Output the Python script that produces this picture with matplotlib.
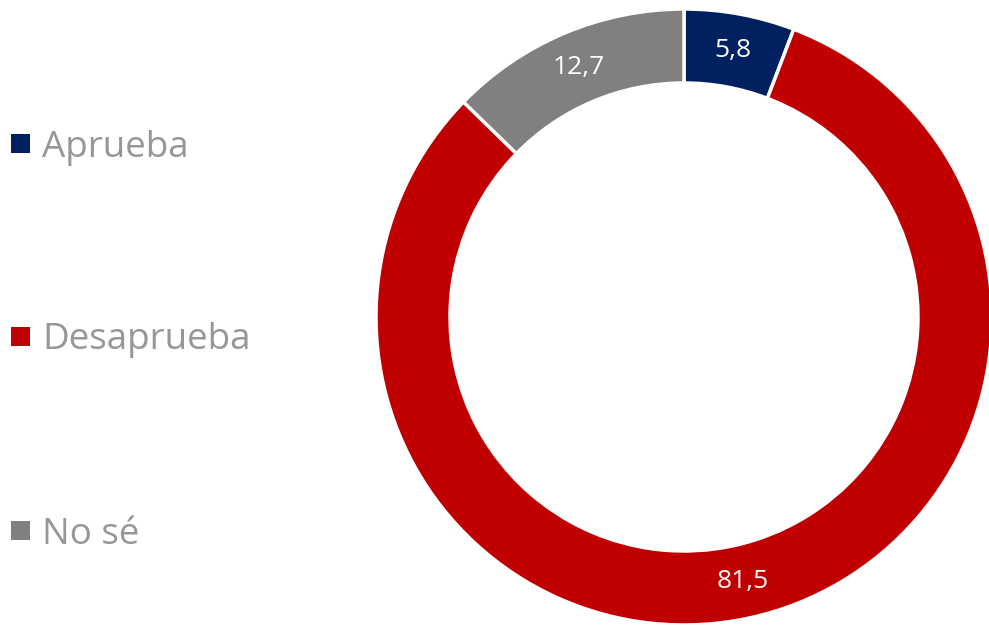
import matplotlib
matplotlib.use("Agg")
import matplotlib.pyplot as plt
from matplotlib.patches import Rectangle
import numpy as np

categories = ["Aprueba", "Desaprueba", "No sé"]
values = [5.8, 81.5, 12.7]
colors = ["#002060", "#C00000", "#808080"]

plt.rcParams['font.family'] = ['Open Sans', 'DejaVu Sans']

W, H = 989, 627
fig = plt.figure(figsize=(W / 100, H / 100), dpi=100)

cx, cy, R = 684, 317, 308
ax = fig.add_axes([(cx - R) / W, (H - cy - R) / H, 2 * R / W, 2 * R / H])
width = 74 / R
wedges, texts = ax.pie(values, colors=colors, startangle=90, counterclock=False,
                       radius=1, wedgeprops=dict(width=width, edgecolor="white", linewidth=2.5))
rmid = 1 - width / 2
for v, w in zip(values, wedges):
    mid = np.deg2rad((w.theta1 + w.theta2) / 2)
    ax.text(rmid * np.cos(mid), rmid * np.sin(mid), f"{v:.1f}".replace(".", ","),
            ha="center", va="center", color="white", fontsize=19)
ax.set_xlim(-1, 1)
ax.set_ylim(-1, 1)
ax.set_aspect("equal")
ax.axis("off")

legend_y = [143, 336, 530]
for cat, col, y in zip(categories, colors, legend_y):
    fig.add_artist(Rectangle((11 / W, (H - y - 9.5) / H), 19 / W, 19 / H,
                             transform=fig.transFigure, facecolor=col, edgecolor="none"))
    fig.text(42 / W, (H - y) / H, cat, ha="left", va="center_baseline",
             fontsize=26.5, color="#979797")

fig.savefig("out.png", dpi=100)
